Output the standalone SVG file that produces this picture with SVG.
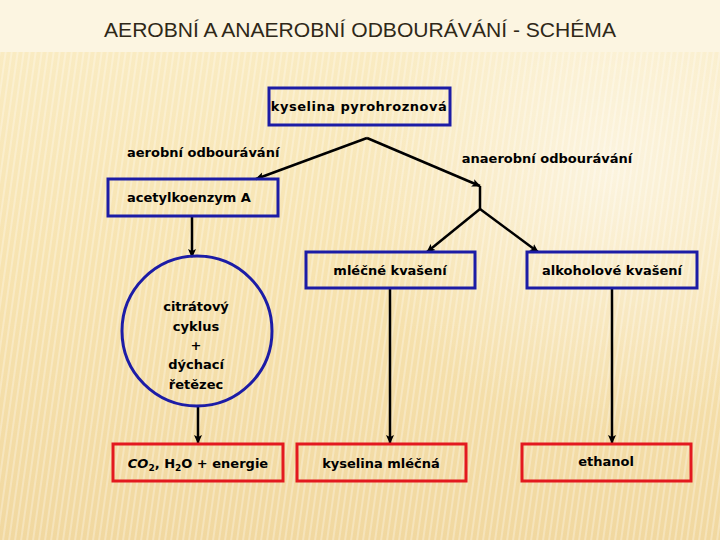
<svg xmlns="http://www.w3.org/2000/svg" width="720" height="540" viewBox="0 0 720 540">
<defs>
<linearGradient id="bg" x1="0" y1="0" x2="0" y2="1">
<stop offset="0" stop-color="#faedc6"/>
<stop offset="0.5" stop-color="#f7e3b0"/>
<stop offset="1" stop-color="#f1d8a0"/>
</linearGradient>
<radialGradient id="glow" cx="610" cy="170" r="260" gradientUnits="userSpaceOnUse">
<stop offset="0" stop-color="#ffffff" stop-opacity="0.55"/>
<stop offset="1" stop-color="#ffffff" stop-opacity="0"/>
</radialGradient>
<pattern id="stripes" width="6" height="10" patternUnits="userSpaceOnUse" patternTransform="skewX(-8)">
<rect x="0" y="0" width="2" height="10" fill="#ffffff" opacity="0.28"/>
</pattern>
<marker id="arr" markerWidth="10" markerHeight="10" refX="8" refY="5" orient="auto" markerUnits="userSpaceOnUse">
<path d="M0,1 L9,5 L0,9 L2,5 Z" fill="#000"/>
</marker>
<style>
.t{font-family:"DejaVu Sans","Liberation Sans",sans-serif;font-weight:bold;font-size:13px;fill:#000}
.blue{fill:none;stroke:#1c1ca6;stroke-width:3}
.red{fill:none;stroke:#e3191f;stroke-width:3}
.c{fill:none;stroke:#000;stroke-width:2.5}
</style>
</defs>
<rect width="720" height="540" fill="url(#bg)"/>
<rect width="720" height="540" fill="url(#glow)"/>
<rect y="52" width="720" height="488" fill="url(#stripes)"/>
<rect width="720" height="52" fill="#fcf5e1"/>
<text x="360" y="37" text-anchor="middle" textLength="512" lengthAdjust="spacingAndGlyphs" style="font-family:'Liberation Sans Narrow','Liberation Sans',sans-serif;font-size:21px;fill:#2f2818">AEROBNÍ A ANAEROBNÍ ODBOURÁVÁNÍ - SCHÉMA</text>

<g id="connectors">
<polyline class="c" points="367,138 256,179" marker-end="url(#arr)"/>
<polyline class="c" points="367,138 480,186" marker-end="url(#arr)"/>
<polyline class="c" points="480,186 480,209"/>
<polyline class="c" points="480,209 427,252" marker-end="url(#arr)"/>
<polyline class="c" points="480,209 538,252" marker-end="url(#arr)"/>
<polyline class="c" points="192,216 192,257" marker-end="url(#arr)"/>
<polyline class="c" points="198,406 198,443" marker-end="url(#arr)"/>
<polyline class="c" points="390,288 390,443" marker-end="url(#arr)"/>
<polyline class="c" points="612,288 612,443" marker-end="url(#arr)"/>
</g>

<g id="labels">
<text class="t" x="127" y="157">aerobní odbourávání</text>
<text class="t" x="547" y="163" text-anchor="middle">anaerobní odbourávání</text>
</g>

<g id="n-pyro">
<rect class="blue" x="269" y="88" width="181" height="37"/>
<text class="t" x="359" y="111" text-anchor="middle" letter-spacing="0.5">kyselina pyrohroznová</text>
</g>
<g id="n-acetyl">
<rect class="blue" x="108" y="179" width="170" height="37"/>
<text class="t" x="127" y="202">acetylkoenzym A</text>
</g>
<g id="n-cycle">
<circle class="blue" cx="197" cy="331" r="75"/>
<text class="t" x="196" y="311" text-anchor="middle">citrátový</text>
<text class="t" x="196" y="331" text-anchor="middle">cyklus</text>
<text class="t" x="196" y="350" text-anchor="middle">+</text>
<text class="t" x="196" y="369" text-anchor="middle">dýchací</text>
<text class="t" x="196" y="389" text-anchor="middle">řetězec</text>
</g>
<g id="n-mlecne">
<rect class="blue" x="306" y="252" width="169" height="36"/>
<text class="t" x="390" y="275" text-anchor="middle">mléčné kvašení</text>
</g>
<g id="n-alkohol">
<rect class="blue" x="527" y="252" width="170" height="36"/>
<text class="t" x="612" y="275" text-anchor="middle">alkoholové kvašení</text>
</g>
<g id="n-co2">
<rect class="red" x="113" y="444" width="170" height="37"/>
<text class="t" x="198" y="468" text-anchor="middle"><tspan font-style="italic">CO</tspan><tspan font-size="9" dy="3">2</tspan><tspan dy="-3">, H</tspan><tspan font-size="9" dy="3">2</tspan><tspan dy="-3">O + energie</tspan></text>
</g>
<g id="n-mlecna">
<rect class="red" x="297" y="444" width="169" height="37"/>
<text class="t" x="381" y="468" text-anchor="middle">kyselina mléčná</text>
</g>
<g id="n-ethanol">
<rect class="red" x="522" y="444" width="169" height="37"/>
<text class="t" x="606" y="466" text-anchor="middle">ethanol</text>
</g>
</svg>
